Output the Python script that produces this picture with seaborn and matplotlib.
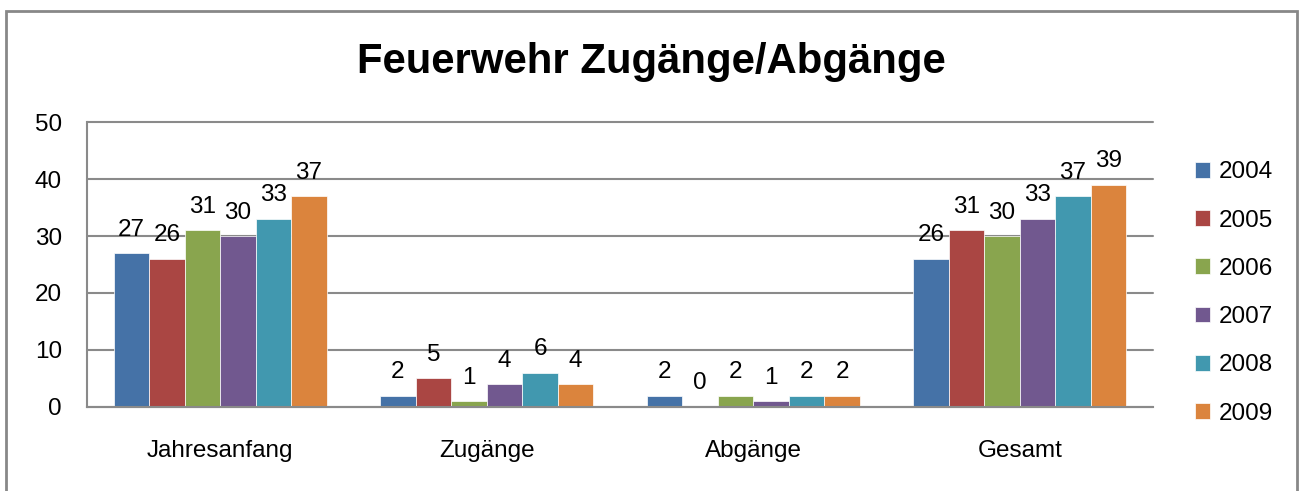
import pandas as pd
import matplotlib
matplotlib.use("Agg")
import matplotlib.pyplot as plt
import seaborn as sns
from matplotlib.patches import Rectangle

# Werte
kategorien = ["Jahresanfang", "Zugänge", "Abgänge", "Gesamt"]
jahre = ["2004", "2005", "2006", "2007", "2008", "2009"]
werte_2004 = [27, 2, 2, 26]
werte_2005 = [26, 5, 0, 31]
werte_2006 = [31, 1, 2, 30]
werte_2007 = [30, 4, 1, 33]
werte_2008 = [33, 6, 2, 37]
werte_2009 = [37, 4, 2, 39]
farben = ["#4572A7", "#AA4643", "#89A54E", "#71588F", "#4198AF", "#DB843D"]

reihen = [werte_2004, werte_2005, werte_2006, werte_2007, werte_2008, werte_2009]
rows = []
for jahr, werte in zip(jahre, reihen):
    for kat, w in zip(kategorien, werte):
        rows.append({"Kategorie": kat, "Jahr": jahr, "Anzahl": w})
df = pd.DataFrame(rows)

sns.set_style("white")
plt.rcParams['font.family'] = ['Liberation Sans', 'DejaVu Sans']
plt.rcParams['text.color'] = 'black'

fig = plt.figure(figsize=(13, 4.91), dpi=100)
ax = fig.add_axes([0.0669, 0.1711, 0.82, 0.5804])

sns.barplot(data=df, x="Kategorie", y="Anzahl", hue="Jahr", palette=farben,
            width=0.8, gap=0, saturation=1, ax=ax, edgecolor="white", linewidth=0.5,
            legend=True, errorbar=None)

for cont in ax.containers:
    ax.bar_label(cont, padding=9, fontsize=17.5, color="black")

ax.set_ylim(0, 50)
ax.set_xlim(-0.5, 3.5)
ax.set_yticks([0, 10, 20, 30, 40, 50])
ax.yaxis.grid(True, color="#8a8a8a", linewidth=1.5)
for gl in ax.get_ygridlines():
    gl.set_clip_on(False)
ax.set_axisbelow(True)
ax.set_xlabel("")
ax.set_ylabel("")
for s in ["top", "right"]:
    ax.spines[s].set_visible(False)
for s in ["left", "bottom"]:
    ax.spines[s].set_color("#8a8a8a")
    ax.spines[s].set_linewidth(1.5)

# Kategorie-Trennstriche wie in Excel
ax.set_xticks([-0.5, 0.5, 1.5, 2.5, 3.5], minor=True)
ax.tick_params(axis="x", which="minor", length=9, width=1.5, color="#8a8a8a", direction="out")
ax.tick_params(axis="x", which="major", length=0, labelsize=17.5, pad=24, labelcolor="black")
ax.tick_params(axis="y", length=9, width=1.5, color="#8a8a8a", direction="out",
               labelsize=17.5, pad=9, labelcolor="black")

leg = ax.legend(loc="center left", bbox_to_anchor=(1.019, 0.40), frameon=False,
                fontsize=17.5, handlelength=0.62, handleheight=0.62, handletextpad=0.35,
                labelspacing=1.08)

fig.text(0.501, 0.873, "Feuerwehr Zugänge/Abgänge", ha="center", va="center",
         fontsize=30.2, fontweight="bold")

fig.patches.append(Rectangle((6 / 1300, -0.05), 1291 / 1300, 1.05 - 11 / 491,
                             transform=fig.transFigure, fill=False,
                             edgecolor="#888888", linewidth=2))

fig.savefig("out.png", dpi=100)
